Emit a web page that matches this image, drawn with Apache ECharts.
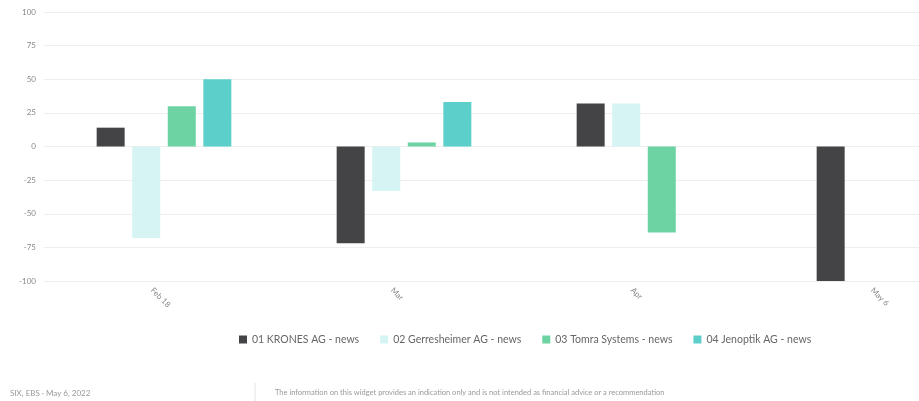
<!DOCTYPE html>
<html>
<head>
<meta charset="utf-8">
<script src="https://cdn.jsdelivr.net/npm/echarts@6/dist/echarts.min.js"></script>
<style>
  html, body { margin: 0; padding: 0; background: #fff; }
  #chart { width: 919px; height: 401px; }
</style>
</head>
<body>
<div id="chart"></div>
<script>
"use strict"
const categories = ['Feb 18', 'Mar', 'Apr', 'May 6'];
const seriesNames = ['01 KRONES AG - news', '02 Gerresheimer AG - news', '03 Tomra Systems - news', '04 Jenoptik AG - news'];
const krones = [14, -72, 32, -100];
const gerresheimer = [-68, -33, 32, null];
const tomra = [30, 3, -64, null];
const jenoptik = [50, 33, null, null];
const yTicks = [-100, -75, -50, -25, 0, 25, 50, 75, 100];
const colors = ['#444446', '#d6f4f4', '#6dd3a3', '#5ccfca'];

let chart = echarts.init(document.getElementById('chart'));

//每个系列一组柱子
let seriesData = [krones, gerresheimer, tomra, jenoptik];
let series = seriesData.map(function (vals, i) {
    return {
        name: seriesNames[i],
        type: 'bar',
        data: vals,
        barWidth: 28,
        barGap: '27%',
        itemStyle: { color: colors[i] }
    };
});

chart.setOption({
    animation: false,
    color: colors,
    // 图表右侧被裁掉，网格比画布宽
    grid: { left: 44, top: 12, width: 960, height: 269, outerBoundsMode: 'none' },
    legend: {
        top: 329,
        left: 234,
        itemWidth: 8,
        itemHeight: 8,
        itemGap: 21,
        icon: 'rect',
        textStyle: { fontSize: 10.5, color: '#666', fontFamily: 'Lato' },
        data: seriesNames
    },
    xAxis: {
        type: 'category',
        data: categories,
        axisLine: { show: false },
        axisTick: { show: false },
        axisLabel: {
            rotate: -45,
            fontSize: 8,
            color: '#888',
            fontFamily: 'Lato',
            margin: 20,
            padding: [0, 0, 0, -17]
        }
    },
    yAxis: {
        type: 'value',
        min: yTicks[0],
        max: yTicks[yTicks.length - 1],
        interval: 25,
        axisLine: { show: false },
        axisTick: { show: false },
        axisLabel: { fontSize: 8, color: '#888', fontFamily: 'Lato', margin: 8 },
        splitLine: { lineStyle: { color: '#eeeeee' } }
    },
    graphic: [
        {
            type: 'text', left: 10, top: 389,
            style: { text: 'SIX, EBS · May 6, 2022', fontSize: 8, fill: '#999', fontFamily: 'Lato' }
        },
        {
            type: 'line',
            shape: { x1: 255, y1: 383, x2: 255, y2: 401 },
            style: { stroke: '#e4e4e4', lineWidth: 1 }
        },
        {
            type: 'text', left: 275, top: 389,
            style: {
                text: 'The information on this widget provides an indication only and is not intended as financial advice or a recommendation',
                fontSize: 7.5, fill: '#999', fontFamily: 'Lato'
            }
        }
    ],
    series: series
});
</script>
</body>
</html>
